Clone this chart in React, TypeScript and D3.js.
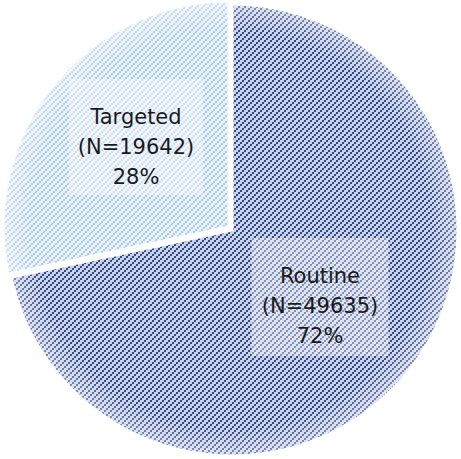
import React from "react";
import * as d3 from "d3";

const categories = ["Routine", "Targeted"];
const counts = [49635, 19642];
const percents = ["72%", "28%"];

const W = 461;
const H = 459;

export default function App() {
  const cx = 232;
  const cy = 230;
  const r = 226;
  const pie = d3
    .pie<number>()
    .sort(null)
    .value((d) => d);
  const arcs = pie(counts);
  const arcGen = d3.arc<d3.PieArcDatum<number>>().innerRadius(0).outerRadius(r);
  const fills = ["url(#patR)", "url(#patT)"];
  const offsets = [0, 4];
  const boxes = [
    { w: 137, h: 118 },
    { w: 134, h: 116 },
  ];
  const labelPos = [
    { x: 320, y: 283 },
    { x: 136, y: 124 },
  ];
  return (
    <svg width={W} height={H} style={{ position: "absolute", left: 0, top: 0 }}>
      <defs>
        <pattern id="patR" width={6} height={6} patternUnits="userSpaceOnUse">
          <rect width={6} height={6} fill="#cbd2e7" />
          <rect x={0} y={4} width={2} height={2} fill="#2f4a8a" />
          <rect x={2} y={2} width={2} height={2} fill="#2f4a8a" />
          <rect x={4} y={0} width={2} height={2} fill="#2f4a8a" />
        </pattern>
        <pattern id="patT" width={6} height={6} patternUnits="userSpaceOnUse">
          <rect width={6} height={6} fill="#eaf2fc" />
          <rect x={0} y={4} width={2} height={2} fill="#a9c9ee" />
          <rect x={2} y={2} width={2} height={2} fill="#a9c9ee" />
          <rect x={4} y={0} width={2} height={2} fill="#a9c9ee" />
        </pattern>
        <radialGradient id="edge" gradientUnits="userSpaceOnUse" cx={0} cy={0} r={r}>
          <stop offset="88%" stopColor="#ffffff" stopOpacity={0} />
          <stop offset="100%" stopColor="#ffffff" stopOpacity={0.4} />
        </radialGradient>
      </defs>
      {arcs.map((a, i) => {
        const mid = (a.startAngle + a.endAngle) / 2;
        const ox = Math.round(Math.sin(mid) * offsets[i]);
        const oy = Math.round(-Math.cos(mid) * offsets[i]);
        return (
          <g key={categories[i]} transform={`translate(${cx + ox},${cy + oy})`}>
            <path d={arcGen(a) || ""} fill={fills[i]} />
            <path d={arcGen(a) || ""} fill="url(#edge)" stroke="#ffffff" strokeWidth={3} strokeLinejoin="round" />
          </g>
        );
      })}
      {arcs.map((a, i) => {
        const p = labelPos[i];
        const b = boxes[i];
        return (
          <g key={"l" + i}>
            <rect
              x={p.x - b.w / 2}
              y={p.y - 45}
              width={b.w}
              height={b.h}
              fill="#ffffff"
              fillOpacity={0.4}
            />
            <text
              x={p.x}
              y={p.y}
              textAnchor="middle"
              fontFamily="'DejaVu Sans', sans-serif"
              fontSize={21}
              fill="#1a1a1a"
            >
              <tspan x={p.x} dy={0}>{categories[i]}</tspan>
              <tspan x={p.x} dy={30}>{`(N=${counts[i]})`}</tspan>
              <tspan x={p.x} dy={30}>{percents[i]}</tspan>
            </text>
          </g>
        );
      })}
    </svg>
  );
}
